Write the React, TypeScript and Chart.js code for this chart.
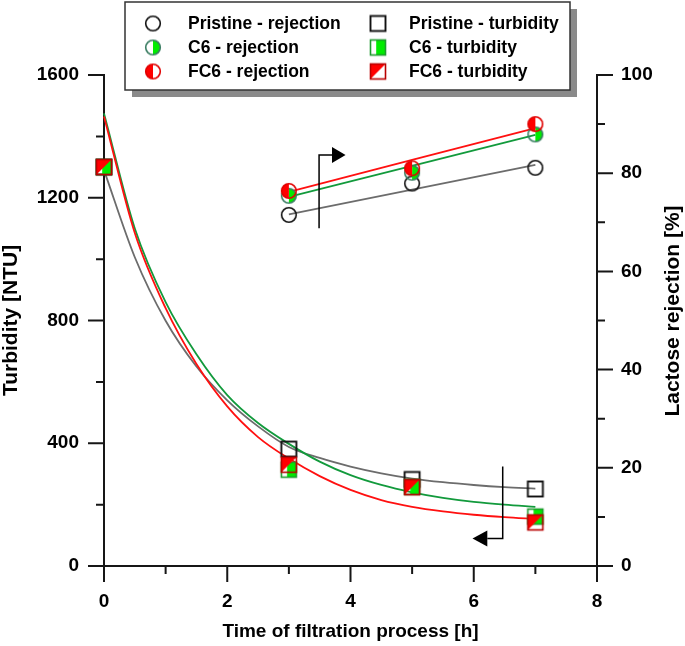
import React, { useEffect, useRef } from "react";
import { Chart, registerables } from "chart.js";

Chart.register(...registerables);

// ---------------- data ----------------
const hours = [0, 3, 5, 7];
const turbidityPristine = [1300, 381, 282, 251];
const turbidityC6 = [1300, 314, 258, 161];
const turbidityFC6 = [1300, 330, 257, 142];

const rejectionHours = [3, 5, 7];
const rejectionPristine = [71.5, 77.9, 81.1];
const rejectionC6 = [75.4, 80.1, 87.9];
const rejectionFC6 = [76.4, 81.0, 90.0];

const rejectionFitHours = [3, 7];
const rejectionFitPristine = [71.6, 81.7];
const rejectionFitC6 = [75.2, 87.8];
const rejectionFitFC6 = [76.2, 89.2];

const turbidityFitHours = [0, 0.5, 1, 1.5, 2, 2.5, 3, 3.5, 4, 4.5, 5, 5.5, 6, 6.5, 7];
const turbidityFitPristine = [1290, 1006, 799, 650, 540, 455, 388, 352, 324, 302, 285, 273, 264, 257, 252];
const turbidityFitC6 = [1475, 1100, 860, 690, 557, 466, 398, 340, 296, 264, 240, 222, 209, 200, 193];
const turbidityFitFC6 = [1465, 1085, 840, 658, 520, 420, 350, 293, 248, 215, 193, 178, 167, 159, 153];

const xMajorTicks = [0, 2, 4, 6, 8];
const xMinorTicks = [1, 3, 5, 7];
const leftMajorTicks = [0, 400, 800, 1200, 1600];
const leftMinorTicks = [200, 600, 1000, 1400];
const rightMajorTicks = [0, 20, 40, 60, 80, 100];
const rightMinorTicks = [10, 30, 50, 70, 90];

const legendLabels = [
  "Pristine - rejection",
  "C6 - rejection",
  "FC6 - rejection",
  "Pristine - turbidity",
  "C6 - turbidity",
  "FC6 - turbidity",
];

// arrows (data coordinates)
const arrowToRejection = { axis: "y2", x: 3.49, y0: 68.8, y1: 83.7, elbow: 3.7, tip: 3.92 };
const arrowToTurbidity = { axis: "y", x: 6.47, y0: 324, y1: 90, elbow: 6.22, tip: 5.98 };

// ---------------- styles ----------------
const FONT = 'Arial, "Liberation Sans", sans-serif';
const AXIS = "#161616";
const GRAY_LINE = "#6c6c6c";
const GREEN_LINE = "#129a3c";
const RED_LINE = "#ff1010";
const GREEN_FILL = "#00ec00";
const RED_FILL = "#ff0000";

function makeMarker(kind: string): HTMLCanvasElement {
  const size = 20;
  const c = document.createElement("canvas");
  c.width = size;
  c.height = size;
  const g = c.getContext("2d")!;
  const m = size / 2;
  const r = 7.3;
  const h = 7.5;
  g.lineWidth = 1.6;
  if (kind === "circleOpen") {
    g.strokeStyle = "#111";
    g.beginPath();
    g.arc(m, m, r, 0, Math.PI * 2);
    g.stroke();
  } else if (kind === "circleC6") {
    g.fillStyle = GREEN_FILL;
    g.beginPath();
    g.moveTo(m, m);
    g.arc(m, m, r, -Math.PI / 2, Math.PI / 2);
    g.closePath();
    g.fill();
    g.strokeStyle = "#3a7d62";
    g.beginPath();
    g.arc(m, m, r, 0, Math.PI * 2);
    g.stroke();
  } else if (kind === "circleFC6") {
    g.fillStyle = RED_FILL;
    g.beginPath();
    g.moveTo(m, m);
    g.arc(m, m, r, Math.PI / 2, (3 * Math.PI) / 2);
    g.closePath();
    g.fill();
    g.strokeStyle = "#e00000";
    g.beginPath();
    g.arc(m, m, r, 0, Math.PI * 2);
    g.stroke();
  } else if (kind === "squareOpen") {
    g.strokeStyle = "#111";
    g.lineWidth = 1.9;
    g.strokeRect(m - h, m - h, 2 * h, 2 * h);
  } else if (kind === "squareC6") {
    g.fillStyle = GREEN_FILL;
    g.fillRect(m - h + 0.38 * 2 * h, m - h, 2 * h * 0.62, 2 * h);
    g.strokeStyle = "#1e9a2e";
    g.strokeRect(m - h, m - h, 2 * h, 2 * h);
  } else if (kind === "squareFC6") {
    g.fillStyle = RED_FILL;
    g.beginPath();
    g.moveTo(m - h, m - h);
    g.lineTo(m + h, m - h);
    g.lineTo(m - h, m + h);
    g.closePath();
    g.fill();
    g.strokeStyle = "#b80000";
    g.strokeRect(m - h, m - h, 2 * h, 2 * h);
  }
  return c;
}

const pts = (xs: number[], ys: number[]) => xs.map((x, i) => ({ x, y: ys[i] }));
const plain = (v: any) => String(v);

export default function App() {
  const ref = useRef<HTMLCanvasElement | null>(null);

  useEffect(() => {
    const canvas = ref.current;
    if (!canvas) return;

    const mk = {
      circleOpen: makeMarker("circleOpen"),
      circleC6: makeMarker("circleC6"),
      circleFC6: makeMarker("circleFC6"),
      squareOpen: makeMarker("squareOpen"),
      squareC6: makeMarker("squareC6"),
      squareFC6: makeMarker("squareFC6"),
    };
    const legendMarkers = [mk.circleOpen, mk.circleC6, mk.circleFC6, mk.squareOpen, mk.squareC6, mk.squareFC6];

    const decor = {
      id: "decor",
      afterDraw(chart: any) {
        const { ctx, scales, chartArea } = chart;
        const x = scales.x, y = scales.y, y2 = scales.y2;
        ctx.save();
        ctx.strokeStyle = AXIS;
        ctx.lineWidth = 2;
        ctx.beginPath();
        const L = chartArea.left, R = chartArea.right, B = chartArea.bottom;
        leftMajorTicks.forEach((v) => { const p = y.getPixelForValue(v); ctx.moveTo(L - 16, p); ctx.lineTo(L, p); });
        leftMinorTicks.forEach((v) => { const p = y.getPixelForValue(v); ctx.moveTo(L - 8, p); ctx.lineTo(L, p); });
        rightMajorTicks.forEach((v) => { const p = y2.getPixelForValue(v); ctx.moveTo(R, p); ctx.lineTo(R + 16, p); });
        rightMinorTicks.forEach((v) => { const p = y2.getPixelForValue(v); ctx.moveTo(R, p); ctx.lineTo(R + 8, p); });
        xMajorTicks.forEach((v) => { const p = x.getPixelForValue(v); ctx.moveTo(p, B); ctx.lineTo(p, B + 16); });
        xMinorTicks.forEach((v) => { const p = x.getPixelForValue(v); ctx.moveTo(p, B); ctx.lineTo(p, B + 8); });
        ctx.stroke();

        // arrows
        ctx.lineWidth = 1.5;
        ctx.strokeStyle = "#000";
        ctx.fillStyle = "#000";
        [arrowToRejection, arrowToTurbidity].forEach((a) => {
          const sc = scales[a.axis];
          const sx = x.getPixelForValue(a.x);
          const p0 = sc.getPixelForValue(a.y0);
          const p1 = sc.getPixelForValue(a.y1);
          const ex = x.getPixelForValue(a.elbow);
          const tx = x.getPixelForValue(a.tip);
          ctx.beginPath();
          ctx.moveTo(sx, p0);
          ctx.lineTo(sx, p1);
          ctx.lineTo(ex, p1);
          ctx.stroke();
          ctx.beginPath();
          ctx.moveTo(ex, p1 - 8);
          ctx.lineTo(tx, p1);
          ctx.lineTo(ex, p1 + 8);
          ctx.closePath();
          ctx.fill();
        });

        // right axis title (reads bottom to top)
        ctx.fillStyle = "#000";
        ctx.font = `bold 21px ${FONT}`;
        ctx.textAlign = "center";
        ctx.textBaseline = "middle";
        ctx.translate(673, 311);
        ctx.rotate(-Math.PI / 2);
        ctx.fillText("Lactose rejection [%]", 0, 0);
        ctx.setTransform(chart.currentDevicePixelRatio, 0, 0, chart.currentDevicePixelRatio, 0, 0);

        // legend
        const bx = 125, by = 2, bw = 445, bh = 88;
        ctx.fillStyle = "#8a8a8a";
        ctx.fillRect(bx + 7, by + 7, bw, bh);
        ctx.fillStyle = "#fff";
        ctx.fillRect(bx, by, bw, bh);
        ctx.strokeStyle = "#333";
        ctx.lineWidth = 1.5;
        ctx.strokeRect(bx, by, bw, bh);
        const rows = [23.5, 47.5, 71.5];
        const markerX = [153, 378];
        const textX = [188, 409];
        ctx.font = `bold 17.5px ${FONT}`;
        ctx.textAlign = "left";
        ctx.textBaseline = "middle";
        ctx.fillStyle = "#000";
        legendLabels.forEach((label, i) => {
          const col = Math.floor(i / 3);
          const row = i % 3;
          const m = legendMarkers[i];
          ctx.drawImage(m, markerX[col] - m.width / 2, rows[row] - m.height / 2);
          ctx.fillText(label, textX[col], rows[row] + 1);
        });
        ctx.restore();
      },
    };

    const lineDs = (label: string, xs: number[], ys: number[], color: string, axis: string, order: number) => ({
      label,
      data: pts(xs, ys),
      showLine: true,
      borderColor: color,
      borderWidth: 1.8,
      pointRadius: 0,
      cubicInterpolationMode: "monotone",
      yAxisID: axis,
      order,
      clip: false,
    });
    const markerDs = (label: string, xs: number[], ys: number[], style: HTMLCanvasElement, axis: string, order: number) => ({
      label,
      data: pts(xs, ys),
      showLine: false,
      pointStyle: style,
      pointRadius: 7,
      yAxisID: axis,
      order,
      clip: false,
    });

    const tickFont = { family: FONT, size: 19, weight: "bold" };

    const chart = new Chart(canvas, {
      type: "scatter",
      data: {
        datasets: [
          markerDs("FC6 - rejection", rejectionHours, rejectionFC6, mk.circleFC6, "y2", 0),
          markerDs("FC6 - turbidity", hours, turbidityFC6, mk.squareFC6, "y", 0),
          markerDs("C6 - rejection", rejectionHours, rejectionC6, mk.circleC6, "y2", 1),
          markerDs("C6 - turbidity", hours, turbidityC6, mk.squareC6, "y", 1),
          markerDs("Pristine - rejection", rejectionHours, rejectionPristine, mk.circleOpen, "y2", 2),
          markerDs("Pristine - turbidity", hours, turbidityPristine, mk.squareOpen, "y", 2),
          lineDs("fit FC6 rej", rejectionFitHours, rejectionFitFC6, RED_LINE, "y2", 3),
          lineDs("fit C6 rej", rejectionFitHours, rejectionFitC6, GREEN_LINE, "y2", 4),
          lineDs("fit Pristine rej", rejectionFitHours, rejectionFitPristine, GRAY_LINE, "y2", 5),
          lineDs("fit FC6 turb", turbidityFitHours, turbidityFitFC6, RED_LINE, "y", 3),
          lineDs("fit C6 turb", turbidityFitHours, turbidityFitC6, GREEN_LINE, "y", 4),
          lineDs("fit Pristine turb", turbidityFitHours, turbidityFitPristine, GRAY_LINE, "y", 5),
        ] as any,
      },
      options: {
        animation: false,
        responsive: false,
        events: [],
        layout: { padding: { top: 75, left: 0, right: 0, bottom: 0 } },
        plugins: { legend: { display: false }, tooltip: { enabled: false } },
        scales: {
          x: {
            type: "linear",
            min: 0,
            max: 8,
            grid: { display: false, drawTicks: false },
            border: { display: true, color: AXIS, width: 2 },
            ticks: { stepSize: 2, padding: 24, color: "#000", font: tickFont, callback: plain },
            title: {
              display: true,
              text: "Time of filtration process [h]",
              color: "#000",
              font: { family: FONT, size: 19, weight: "bold", lineHeight: 1 },
              padding: { top: 0, bottom: 4.5 },
            },
            afterFit: (s: any) => { s.height = 80; },
          },
          y: {
            type: "linear",
            position: "left",
            min: 0,
            max: 1600,
            grid: { display: false, drawTicks: false },
            border: { display: true, color: AXIS, width: 2 },
            ticks: { stepSize: 400, padding: 25, color: "#000", font: tickFont, callback: plain },
            title: {
              display: true,
              text: "Turbidity [NTU]",
              color: "#000",
              font: { family: FONT, size: 21, weight: "bold", lineHeight: 1 },
              padding: { top: 0.5, bottom: 0 },
            },
            afterFit: (s: any) => { s.width = 104; },
          },
          y2: {
            type: "linear",
            position: "right",
            min: 0,
            max: 100,
            grid: { display: false, drawTicks: false },
            border: { display: true, color: AXIS, width: 2 },
            ticks: { stepSize: 20, padding: 24, color: "#000", font: tickFont, callback: plain },
            afterFit: (s: any) => { s.width = 88; },
          },
        },
      } as any,
      plugins: [decor],
    });

    return () => chart.destroy();
  }, []);

  return (
    <div style={{ position: "fixed", left: 0, top: 0, width: 685, height: 646, background: "#fff" }}>
      <canvas ref={ref} width={685} height={646} style={{ display: "block", width: 685, height: 646 }} />
    </div>
  );
}
